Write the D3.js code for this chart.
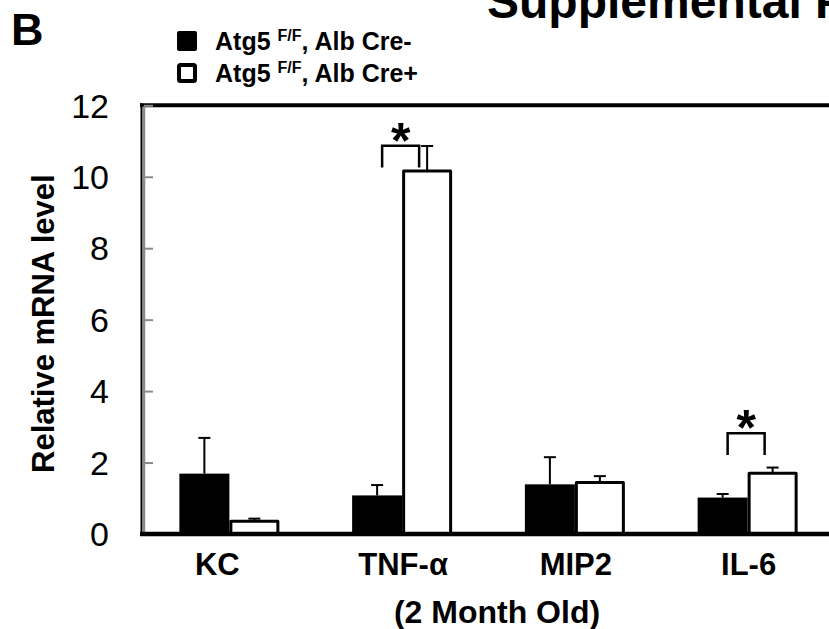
<!DOCTYPE html>
<html><head><meta charset="utf-8">
<script src="https://cdn.jsdelivr.net/npm/d3@7/dist/d3.min.js"></script>
<style>html,body{margin:0;padding:0;background:#fff;}svg{display:block;}</style>
</head><body>
<script>
const categories = ["KC", "TNF-α", "MIP2", "IL-6"];
const seriesNames = ["Cre-", "Cre+"];
const creNeg = [1.69, 1.08, 1.39, 1.02];
const creNegErr = [1.00, 0.29, 0.76, 0.10];
const crePos = [0.36, 10.16, 1.44, 1.70];
const crePosErr = [0.07, 0.70, 0.18, 0.16];
const yTicks = [0, 2, 4, 6, 8, 10, 12];
// significance brackets: category, bracket top & leg bottom (value units)
const sigCats = ["TNF-α", "IL-6"];
const sigTop = [10.87, 2.82];
const sigBottom = [10.26, 2.21];

const W = 829, H = 629;
const svg = d3.select("body").append("svg").attr("width", W).attr("height", H);
const font = "'Liberation Sans', Arial, Helvetica, sans-serif";

const y = d3.scaleLinear().domain([0, 12]).range([534, 105.3]);
const x = d3.scaleBand().domain(categories).range([143, 834]).padding(0);
const sub = d3.scaleBand().domain(seriesNames).range([-50, 50]).padding(0);
const cx = c => x(c) + x.bandwidth() / 2;

// Title (cut at top)
svg.append("text").attr("x", 487).attr("y", 18).attr("font-family", font)
  .attr("font-weight", "bold").attr("font-size", 48).text("Supplemental F");
// panel letter
svg.append("text").attr("x", 11).attr("y", 45).attr("font-family", font)
  .attr("font-weight", "bold").attr("font-size", 45).text("B");

// legend
const legend = svg.append("g");
[[0, 41], [1, 73]].forEach(([i, cy]) => {
  if (i === 0) {
    legend.append("rect").attr("x", 177).attr("y", cy - 10).attr("width", 20).attr("height", 20)
      .attr("rx", 2).attr("fill", "#000");
  } else {
    legend.append("rect").attr("x", 179).attr("y", cy - 8).attr("width", 16).attr("height", 16)
      .attr("rx", 1.5).attr("fill", "#fff").attr("stroke", "#000").attr("stroke-width", 4);
  }
  const t = legend.append("text").attr("x", 215).attr("y", cy + 9).attr("font-family", font)
    .attr("font-weight", "bold").attr("font-size", 25);
  t.append("tspan").text("Atg5 ");
  t.append("tspan").attr("font-size", 16).attr("dy", -9).text("F/F");
  t.append("tspan").attr("dy", 9).text(i === 0 ? ", Alb Cre-" : ", Alb Cre+");
});

// frame: top border
svg.append("line").attr("x1", 140).attr("x2", W).attr("y1", y(12)).attr("y2", y(12))
  .attr("stroke", "#000").attr("stroke-width", 4);

// y axis
const yAxis = d3.axisRight(y).tickValues(yTicks).tickSize(9).tickFormat("");
const ga = svg.append("g").attr("transform", "translate(144,0)").call(yAxis);
ga.select(".domain").remove();
ga.selectAll(".tick line").attr("stroke", "#8a8a8a").attr("stroke-width", 2);
svg.append("line").attr("x1", 141.5).attr("x2", 141.5).attr("y1", y(12) - 2).attr("y2", y(0) + 2)
  .attr("stroke", "#000").attr("stroke-width", 2);
svg.append("line").attr("x1", 144).attr("x2", 144).attr("y1", y(12) + 1).attr("y2", y(0))
  .attr("stroke", "#8a8a8a").attr("stroke-width", 2.5);
// tick labels
svg.append("g").selectAll("text").data(yTicks).join("text")
  .attr("x", 109).attr("y", d => y(d)).attr("dy", "0.36em").attr("text-anchor", "end")
  .attr("font-family", font).attr("font-size", 34).attr("fill", "#000").text(d => d);

// y title
svg.append("text").attr("transform", `translate(54,${(y(0) + y(12)) / 2 + 4}) rotate(-90)`)
  .attr("text-anchor", "middle").attr("font-family", font).attr("font-weight", "bold")
  .attr("font-size", 31).text("Relative mRNA level");

// bars
const rows = categories.map((c, i) => [
  {c, s: "Cre-", v: creNeg[i], e: creNegErr[i]},
  {c, s: "Cre+", v: crePos[i], e: crePosErr[i]}
]).flat();

const gb = svg.append("g");
gb.selectAll("line.stem").data(rows).join("line").attr("class", "stem")
  .attr("x1", d => cx(d.c) + sub(d.s) + sub.bandwidth() / 2)
  .attr("x2", d => cx(d.c) + sub(d.s) + sub.bandwidth() / 2)
  .attr("y1", d => y(d.v)).attr("y2", d => y(d.v + d.e))
  .attr("stroke", "#000").attr("stroke-width", 2);
gb.selectAll("line.cap").data(rows).join("line").attr("class", "cap")
  .attr("x1", d => cx(d.c) + sub(d.s) + sub.bandwidth() / 2 - 6)
  .attr("x2", d => cx(d.c) + sub(d.s) + sub.bandwidth() / 2 + 6)
  .attr("y1", d => y(d.v + d.e)).attr("y2", d => y(d.v + d.e))
  .attr("stroke", "#000").attr("stroke-width", 2);
gb.selectAll("rect").data(rows).join("rect")
  .attr("x", d => cx(d.c) + sub(d.s) + (d.s === "Cre+" ? 1.5 : 0))
  .attr("width", d => sub.bandwidth() - (d.s === "Cre+" ? 3 : 0))
  .attr("y", d => y(d.v)).attr("height", d => y(0) - y(d.v))
  .attr("fill", d => d.s === "Cre-" ? "#000" : "#fff")
  .attr("stroke", "#000").attr("stroke-width", d => d.s === "Cre+" ? 3 : 0)
  .attr("stroke-linejoin", "round");

// bottom axis line
svg.append("line").attr("x1", 140).attr("x2", W).attr("y1", y(0)).attr("y2", y(0))
  .attr("stroke", "#000").attr("stroke-width", 4.5);

// significance brackets
sigCats.forEach((c, i) => {
  const x1 = cx(c) - 20, x2 = cx(c) + 17;
  svg.append("path")
    .attr("d", `M${x1},${y(sigBottom[i])}V${y(sigTop[i])}H${x2}V${y(sigBottom[i])}`)
    .attr("fill", "none").attr("stroke", "#000").attr("stroke-width", 2.5);
  svg.append("text").attr("x", (x1 + x2) / 2).attr("y", y(sigTop[i]) + 12)
    .attr("text-anchor", "middle").attr("font-family", font).attr("font-weight", "bold")
    .attr("font-size", 50).text("*");
});

// x labels
svg.append("g").selectAll("text").data(categories).join("text")
  .attr("x", d => cx(d) + (d === "KC" ? -12 : 1)).attr("y", 575).attr("text-anchor", "middle")
  .attr("font-family", font).attr("font-weight", "bold").attr("font-size", 31).text(d => d);
svg.append("text").attr("x", 497).attr("y", 623).attr("text-anchor", "middle")
  .attr("font-family", font).attr("font-weight", "bold").attr("font-size", 32).text("(2 Month Old)");
</script>
</body></html>
